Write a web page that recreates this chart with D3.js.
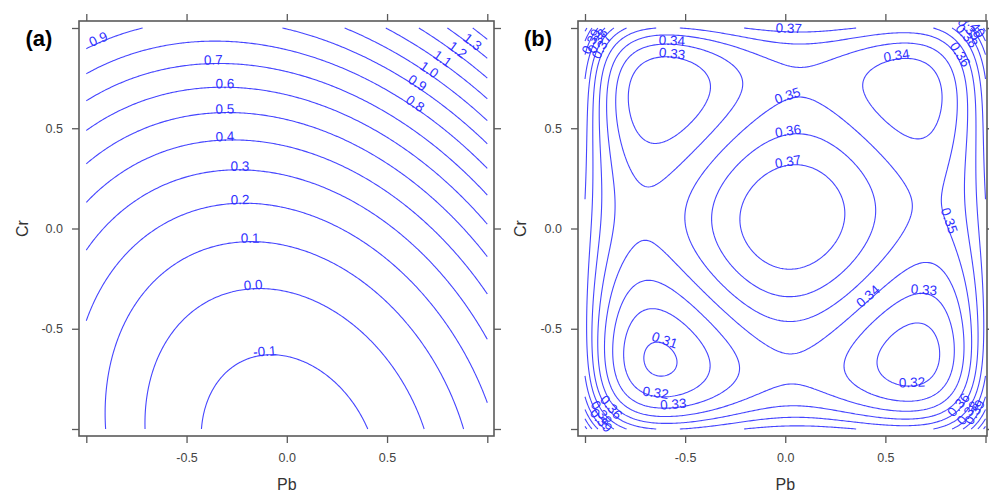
<!DOCTYPE html>
<html>
<head>
<meta charset="utf-8">
<script src="https://cdn.jsdelivr.net/npm/d3@7"></script>
<style>
  body { margin: 0; background: #fff; }
  svg text { font-family: "Liberation Sans", Arial, sans-serif; }
</style>
</head>
<body>
<svg id="chart"></svg>
<script>
// Axis ticks (coded levels of Pb and Cr)
const pbTicks = [-1, -0.5, 0, 0.5, 1];
const crTicks = [-1, -0.5, 0, 0.5, 1];

// (a) fitted quadratic surface: [coefficient, power of Pb, power of Cr]
const termsA = [
  [0.144, 0, 0],
  [0.122, 1, 0],
  [0.53, 0, 1],
  [0.32, 2, 0],
  [0.231, 0, 2],
  [0.115, 1, 1]
];
const levelsA = [-0.1, 0.0, 0.1, 0.2, 0.3, 0.4, 0.5, 0.6, 0.7, 0.8, 0.9, 1.0, 1.1, 1.2, 1.3, 1.4];
// contour labels: [level, approx Pb, approx Cr]
const labelsA = [
  [0.9, -0.93, 0.93], [0.7, -0.37, 0.83], [0.6, -0.31, 0.71], [0.5, -0.31, 0.58],
  [0.4, -0.31, 0.45], [0.3, -0.23, 0.3], [0.2, -0.23, 0.13], [0.1, -0.18, -0.06],
  [0.0, -0.17, -0.3], [-0.1, -0.11, -0.61], [0.8, 0.64, 0.62], [0.9, 0.65, 0.72],
  [1.0, 0.71, 0.79], [1.1, 0.78, 0.85], [1.2, 0.86, 0.9], [1.3, 0.94, 0.95]
];

// (b) fitted higher-order surface: [coefficient, power of Pb, power of Cr]
const termsB = [
  [0.378, 0, 0],
  [0.008, 1, 0], [-0.008, 3, 0],
  [0.014, 0, 1], [-0.014, 0, 3],
  [-0.135, 2, 0], [0.135, 4, 0],
  [-0.135, 0, 2], [0.131, 0, 4],
  [0.105, 2, 4], [0.165, 4, 2], [-0.24, 4, 4],
  [0.03, 2, 1], [-0.03, 2, 3], [-0.03, 4, 1], [0.03, 4, 3],
  [0.017, 1, 2], [-0.017, 1, 4], [-0.017, 3, 2], [0.017, 3, 4],
  [-0.03, 2, 2],
  [0.012, 1, 1], [-0.012, 1, 3], [-0.012, 3, 1], [0.012, 3, 3],
  [0.05, 6, 6]
];
const levelsB = [0.31, 0.32, 0.33, 0.34, 0.35, 0.36, 0.37, 0.38, 0.39, 0.40, 0.41, 0.42];
const labelsB = [
  [0.34, -0.57, 0.89], [0.33, -0.57, 0.8], [0.37, 0.02, 0.99], [0.34, 0.56, 0.83],
  [0.35, 0.02, 0.63], [0.36, 0.02, 0.47], [0.37, 0.02, 0.31], [0.35, 0.8, 0.03],
  [0.31, -0.63, -0.62], [0.32, -0.64, -0.79], [0.33, -0.56, -0.86], [0.34, 0.42, -0.35],
  [0.33, 0.69, -0.34], [0.32, 0.63, -0.74],
  [0.38, -0.93, 0.93], [0.39, -0.95, 0.92], [0.37, -0.91, 0.9],
  [0.36, 0.86, 0.86], [0.38, 0.87, 0.93], [0.39, 0.87, 0.95], [0.40, 0.88, 0.97],
  [0.36, -0.88, -0.9], [0.38, -0.92, -0.92], [0.39, -0.91, -0.95],
  [0.36, 0.87, -0.88], [0.38, 0.9, -0.91], [0.39, 0.92, -0.9]
];

const width = 989;
const height = 492;
const lineColor = "#4646ff";
const textColor = "#3030ff";
const axisColor = "#5a5a5a";
const N = 241;

const svg = d3.select("#chart").attr("width", width).attr("height", height);

const panels = [
  { tag: "(a)", terms: termsA, levels: levelsA, labels: labelsA, digits: 1,
    frame: [79, 21, 494, 436], xRange: [86.3, 487.3], tagX: 39, crX: 22 },
  { tag: "(b)", terms: termsB, levels: levelsB, labels: labelsB, digits: 2,
    frame: [578, 21, 987, 436], xRange: [585, 985.5], tagX: 538, crX: 520 }
];

const evalPoly = (terms, x, y) =>
  terms.reduce((s, [c, p, q]) => s + c * Math.pow(x, p) * Math.pow(y, q), 0);

// Split a closed contour ring into open lines, dropping the segments on the grid border
function ringToLines(ring, n) {
  const onEdge = (p) => p[0] <= 0 || p[0] >= n || p[1] <= 0 || p[1] >= n;
  let pts = ring;
  const f = pts[0], l = pts[pts.length - 1];
  if (f[0] === l[0] && f[1] === l[1]) pts = pts.slice(0, -1);
  const k = pts.length;
  const s = pts.findIndex(onEdge);
  if (s < 0) return [pts.concat([pts[0]])];
  const lines = [];
  let cur = [];
  for (let t = 1; t <= k; t++) {
    const p = pts[(s + t) % k];
    if (onEdge(p)) {
      if (cur.length > 1) lines.push(cur);
      cur = [];
    } else cur.push(p);
  }
  return lines;
}

panels.forEach((panel, pi) => {
  const [fx0, fy0, fx1, fy1] = panel.frame;
  const xScale = d3.scaleLinear().domain([-1, 1]).range(panel.xRange);
  const yScale = d3.scaleLinear().domain([-1, 1]).range([429, 28]);

  const g = svg.append("g").attr("class", "panel");

  // grid of the surface, row 0 = Cr +1
  const values = new Array(N * N);
  for (let j = 0; j < N; j++) {
    const y = 1 - (2 * j) / (N - 1);
    for (let i = 0; i < N; i++) {
      const x = -1 + (2 * i) / (N - 1);
      values[j * N + i] = evalPoly(panel.terms, x, y);
    }
  }

  const contours = d3.contours().size([N, N]).thresholds(panel.levels)(values);
  const toPx = (p) => [
    xScale(-1 + (2 * (p[0] - 0.5)) / (N - 1)),
    yScale(1 - (2 * (p[1] - 0.5)) / (N - 1))
  ];

  const lineData = [];
  contours.forEach((c) => {
    c.coordinates.forEach((poly) => {
      poly.forEach((ring) => {
        ringToLines(ring, N).forEach((ln) => {
          lineData.push({ level: c.value, pts: ln.map(toPx) });
        });
      });
    });
  });

  const clipId = "clip" + pi;
  g.append("clipPath").attr("id", clipId)
    .append("rect")
    .attr("x", fx0).attr("y", fy0)
    .attr("width", fx1 - fx0).attr("height", fy1 - fy0);

  const plot = g.append("g").attr("clip-path", `url(#${clipId})`);

  plot.selectAll(".contour")
    .data(lineData)
    .join("path")
    .attr("class", "contour")
    .attr("d", (d) => d3.line()(d.pts))
    .attr("fill", "none")
    .attr("stroke", lineColor)
    .attr("stroke-width", 1.1)
    .attr("stroke-linejoin", "round");

  // contour labels snapped onto their line
  const placed = panel.labels.map(([lev, hx, hy]) => {
    const px = xScale(hx), py = yScale(hy);
    let best = null;
    lineData.forEach((ld) => {
      if (Math.abs(ld.level - lev) > 1e-6) return;
      ld.pts.forEach((p, idx) => {
        const dd = (p[0] - px) ** 2 + (p[1] - py) ** 2;
        if (!best || dd < best.dd) best = { dd, pts: ld.pts, idx };
      });
    });
    if (!best) return null;
    const pts = best.pts;
    const a = pts[Math.max(0, best.idx - 4)];
    const b = pts[Math.min(pts.length - 1, best.idx + 4)];
    let ang = (Math.atan2(b[1] - a[1], b[0] - a[0]) * 180) / Math.PI;
    if (ang > 90) ang -= 180;
    if (ang < -90) ang += 180;
    return { text: lev.toFixed(panel.digits), x: pts[best.idx][0], y: pts[best.idx][1], ang };
  }).filter(Boolean);

  plot.selectAll(".clabel")
    .data(placed)
    .join("text")
    .attr("class", "clabel")
    .attr("transform", (d) => `translate(${d.x},${d.y}) rotate(${d.ang})`)
    .attr("y", 1)
    .attr("text-anchor", "middle")
    .attr("font-size", 13.5)
    .attr("fill", textColor)
    .text((d) => d.text);

  // frame
  g.append("rect")
    .attr("x", fx0).attr("y", fy0)
    .attr("width", fx1 - fx0).attr("height", fy1 - fy0)
    .attr("fill", "none")
    .attr("stroke", axisColor)
    .attr("stroke-width", 1.6);

  const fmt = (d) => (Math.abs(d) === 1 ? "" : d.toFixed(1));
  const styleAxis = (sel) => {
    sel.select(".domain").remove();
    sel.selectAll(".tick line").attr("stroke", axisColor).attr("stroke-width", 1.3);
    sel.selectAll(".tick text")
      .attr("fill", "#444")
      .attr("font-size", 12.5)
      .attr("font-family", '"Liberation Sans", Arial, sans-serif');
  };

  g.append("g").attr("transform", `translate(0,${fy1})`)
    .call(d3.axisBottom(xScale).tickValues(pbTicks).tickSize(7).tickPadding(10).tickFormat(fmt))
    .call(styleAxis);
  g.append("g").attr("transform", `translate(0,${fy0})`)
    .call(d3.axisTop(xScale).tickValues(pbTicks).tickSize(7).tickFormat(""))
    .call(styleAxis);
  g.append("g").attr("transform", `translate(${fx0},0)`)
    .call(d3.axisLeft(yScale).tickValues(crTicks).tickSize(7).tickPadding(9).tickFormat(fmt))
    .call(styleAxis);
  g.append("g").attr("transform", `translate(${fx1},0)`)
    .call(d3.axisRight(yScale).tickValues(crTicks).tickSize(7).tickFormat(""))
    .call(styleAxis);

  // axis titles
  g.append("text")
    .attr("x", xScale(0)).attr("y", 490)
    .attr("text-anchor", "middle")
    .attr("font-size", 16)
    .attr("fill", "#333")
    .text("Pb");
  g.append("text")
    .attr("transform", `translate(${panel.crX},${yScale(0)}) rotate(-90)`)
    .attr("dy", "0.35em")
    .attr("text-anchor", "middle")
    .attr("font-size", 16)
    .attr("fill", "#333")
    .text("Cr");

  // panel tag
  g.append("text")
    .attr("x", panel.tagX).attr("y", 38)
    .attr("dy", "0.35em")
    .attr("text-anchor", "middle")
    .attr("font-size", 22)
    .attr("font-weight", "bold")
    .attr("fill", "#000")
    .text(panel.tag);
});
</script>
</body>
</html>
